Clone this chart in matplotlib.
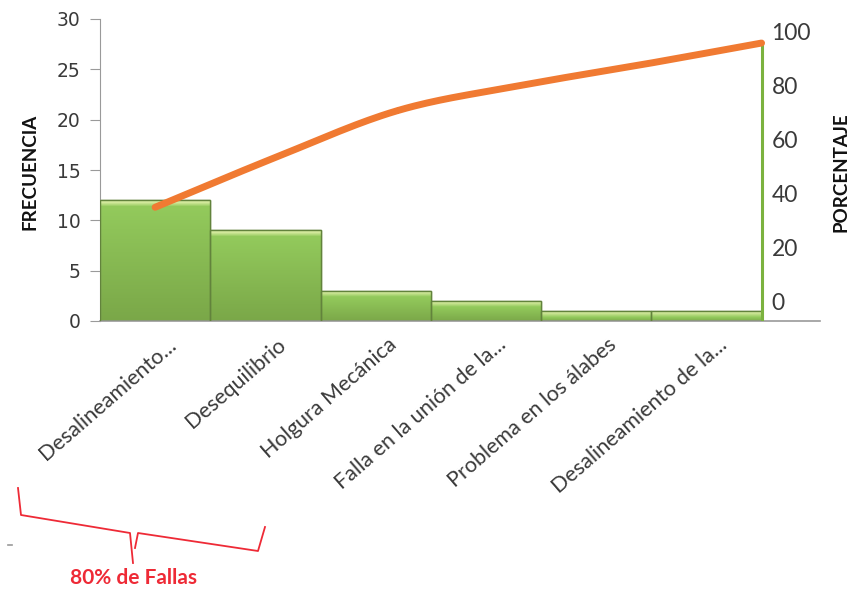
import numpy as np
import matplotlib.pyplot as plt
from matplotlib.colors import to_rgb
from matplotlib.transforms import Affine2D

# data
categorias = ['Desalineamiento...', 'Desequilibrio', 'Holgura Mecánica',
              'Falla en la unión de la...', 'Problema en los álabes',
              'Desalineamiento de la...']
frecuencia = [12, 9, 3, 2, 1, 1]
porcentaje = [35, 53.6, 70.8, 80, 87.7, 95.8]

plt.rcParams['font.family'] = ['Lato', 'DejaVu Sans']

W, H = 851, 592
fig = plt.figure(figsize=(W / 100, H / 100), dpi=100)

# axes box in pixels (left, top, right, bottom)
L, T, R, B = 100, 19, 820, 321
ax = fig.add_axes([L / W, 1 - B / H, (R - L) / W, (B - T) / H])
ax2 = fig.add_axes(ax.get_position(), sharex=ax)
ax2.patch.set_visible(False)

x = np.arange(len(frecuencia))
bars = ax.bar(x, frecuencia, width=1.0, color='#8fc558', edgecolor='#62833c',
              linewidth=1.0, zorder=2)

ax.set_xlim(-0.5, 6.03)
ax.set_ylim(0, 30)
px_per_unit = (B - T) / 30.0

# vertical gradient with a light bevel on top of every bar
top_c = np.array(to_rgb('#d3e99c'))
mid_c = np.array(to_rgb('#93ca5c'))
bot_c = np.array(to_rgb('#7aa748'))
for rect, h in zip(bars, frecuencia):
    n = max(int(round(h * px_per_unit)), 4)
    rows = []
    for i in range(n):
        if i < 2:
            c = top_c
        elif i < 6:
            t = (i - 2) / 4.0
            c = top_c * (1 - t) + mid_c * t
        else:
            t = (i - 6) / max(n - 6, 1)
            c = mid_c * (1 - t) + bot_c * t
        rows.append(c)
    img = np.array(rows)[:, None, :]
    x0 = rect.get_x()
    im = ax.imshow(img, extent=[x0, x0 + rect.get_width(), 0, h], aspect='auto',
                   zorder=2.5, interpolation='bilinear')
    im.set_clip_path(rect)
    ax.add_patch(plt.Rectangle((x0, 0), rect.get_width(), h, fill=False,
                               edgecolor='#62833c', linewidth=1.0, zorder=3))

ax.set_xlim(-0.5, 6.03)
ax.set_ylim(0, 30)
ax.set_yticks(np.arange(0, 31, 5))

for s in ['top', 'right']:
    ax.spines[s].set_visible(False)
ax.spines['left'].set_color('#9a9a9a')
ax.spines['bottom'].set_color('#9a9a9a')
ax.spines['bottom'].set_linewidth(1.2)
ax.tick_params(axis='y', length=7, color='#9a9a9a', labelsize=13.5,
               labelcolor='#3a3a3a', pad=7)
for t in ax.get_yticklabels():
    t.set_fontfamily(['DejaVu Sans'])
ax.tick_params(axis='x', length=0)

ax.set_xticks(x)
lbls = ax.set_xticklabels(categorias, rotation=41, ha='right', va='center',
                          rotation_mode='anchor', fontsize=15.5,
                          color='#3a3a3a')
off = Affine2D().translate(18, -16)
for t in lbls:
    t.set_transform(t.get_transform() + off)

# cumulative line (smoothed like the spreadsheet line)
px = np.linspace(0, 5.5, len(porcentaje))
py = np.array(porcentaje, dtype=float)
xs, ys = [], []
P = np.column_stack([px, py])
P = np.vstack([2 * P[0] - P[1], P, 2 * P[-1] - P[-2]])
for i in range(1, len(P) - 2):
    p0, p1, p2, p3 = P[i - 1], P[i], P[i + 1], P[i + 2]
    for t in np.linspace(0, 1, 30):
        v = 0.5 * ((2 * p1) + (-p0 + p2) * t + (2 * p0 - 5 * p1 + 4 * p2 - p3) * t ** 2
                   + (-p0 + 3 * p1 - 3 * p2 + p3) * t ** 3)
        xs.append(v[0])
        ys.append(v[1])
ax2.plot(xs, ys, color='#f07a32', linewidth=5, solid_capstyle='round', zorder=5)

ax2.set_ylim(-7.1, 104.7)
ax2.vlines(5.5, -7.1, porcentaje[-1], color='#7bb23f', linewidth=2.2, zorder=4)
ax2.set_yticks(np.arange(0, 101, 20))
ax2.yaxis.tick_right()
ax2.tick_params(axis='y', length=0, labelsize=16.5, labelcolor='#3a3a3a', pad=-35)
for t in ax2.get_yticklabels():
    t.set_horizontalalignment('left')
ax2.tick_params(axis='x', length=0, labelbottom=False)
for s in ax2.spines.values():
    s.set_visible(False)

fig.text(30 / W, 1 - 172 / H, 'FRECUENCIA', rotation=90, ha='center', va='center',
         fontsize=13.5, fontweight='bold', color='#111111')
fig.text(841 / W, 1 - 172 / H, 'PORCENTAJE', rotation=90, ha='center', va='center',
         fontsize=13.5, fontweight='bold', color='#111111')

# red brace under the first two categories
red = '#ee2a36'
def fx(p):
    return p / W
def fy(p):
    return 1 - p / H
brace_x = [18, 21, 130, 133]
brace_y = [488, 515, 533, 563]
fig.add_artist(plt.Line2D([fx(v) for v in brace_x], [fy(v) for v in brace_y],
                          color=red, linewidth=1.3))
brace_x2 = [135, 138, 258, 265]
brace_y2 = [548, 533, 551, 527]
fig.add_artist(plt.Line2D([fx(v) for v in brace_x2], [fy(v) for v in brace_y2],
                          color=red, linewidth=1.3))
fig.add_artist(plt.Line2D([fx(8), fx(12)], [fy(545), fy(545)], color='#999999',
                          linewidth=1.2))
fig.text(fx(133), fy(578), '80% de Fallas', ha='center', va='center',
         fontsize=15, fontweight='bold', color=red)

fig.savefig('out.png', dpi=100)
